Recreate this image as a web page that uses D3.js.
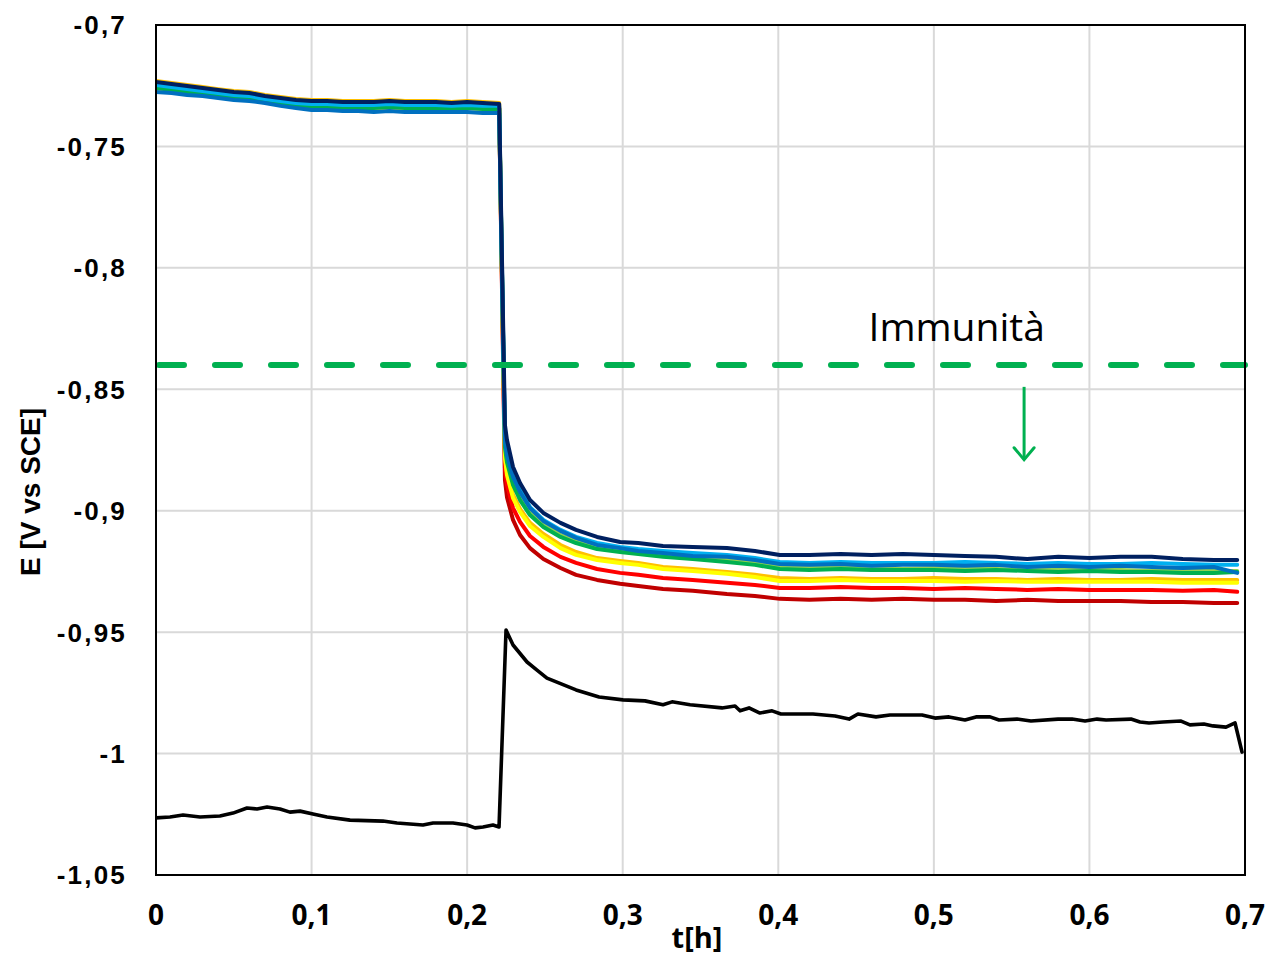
<!DOCTYPE html>
<html><head><meta charset="utf-8">
<script src="https://cdn.jsdelivr.net/npm/d3@7"></script>
<style>body{margin:0;background:#fff;} svg{display:block}</style>
</head><body><svg id="c" width="1271" height="956"></svg>
<script>
// ---------- DATA ----------
const tColored = [0,0.01,0.02,0.03,0.04,0.05,0.06,0.07,0.08,0.09,0.10,0.11,0.12,0.13,0.14,0.15,0.16,0.17,0.18,0.19,0.20,0.21,0.2206,
  0.2243,0.2256,0.2295,0.234,0.2404,0.249,0.26,0.27,0.2835,0.2983,0.31,0.3259,0.345,0.367,0.385,0.401,
  0.42,0.44,0.46,0.48,0.50,0.52,0.54,0.56,0.58,0.60,0.62,0.64,0.66,0.68,0.695];

const eDarkRed = [-0.7251,-0.7259,-0.7268,-0.7280,-0.7284,-0.7296,-0.7296,-0.7309,-0.7317,-0.7325,-0.7329,-0.7333,-0.7333,-0.7338,-0.7338,-0.7333,-0.7338,-0.7333,-0.7338,-0.7342,-0.7338,-0.7342,-0.7342,
  -0.8874,-0.8944,-0.9038,-0.9100,-0.9154,-0.9199,-0.9236,-0.9264,-0.9285,-0.9301,-0.9310,-0.9322,-0.9330,-0.9343,-0.9351,-0.9363,
  -0.9367,-0.9363,-0.9367,-0.9363,-0.9367,-0.9367,-0.9372,-0.9367,-0.9372,-0.9372,-0.9372,-0.9376,-0.9376,-0.9380,-0.9380];
const eRed = [-0.7255,-0.7264,-0.7272,-0.7280,-0.7288,-0.7296,-0.7301,-0.7309,-0.7317,-0.7325,-0.7333,-0.7333,-0.7338,-0.7338,-0.7338,-0.7333,-0.7338,-0.7338,-0.7338,-0.7342,-0.7338,-0.7342,-0.7342,
  -0.8824,-0.8894,-0.8989,-0.9046,-0.9104,-0.9149,-0.9190,-0.9215,-0.9240,-0.9256,-0.9264,-0.9277,-0.9285,-0.9297,-0.9306,-0.9318,
  -0.9318,-0.9314,-0.9318,-0.9318,-0.9322,-0.9318,-0.9322,-0.9326,-0.9322,-0.9326,-0.9326,-0.9326,-0.9330,-0.9326,-0.9334];
const eOrange = [-0.7231,-0.7239,-0.7247,-0.7255,-0.7264,-0.7272,-0.7276,-0.7288,-0.7296,-0.7305,-0.7309,-0.7309,-0.7313,-0.7313,-0.7313,-0.7309,-0.7313,-0.7313,-0.7313,-0.7317,-0.7313,-0.7317,-0.7321,
  -0.8771,-0.8841,-0.8935,-0.8993,-0.9050,-0.9096,-0.9141,-0.9170,-0.9195,-0.9207,-0.9215,-0.9232,-0.9240,-0.9252,-0.9264,-0.9277,
  -0.9281,-0.9277,-0.9281,-0.9281,-0.9277,-0.9281,-0.9281,-0.9285,-0.9281,-0.9285,-0.9285,-0.9281,-0.9285,-0.9285,-0.9285];
const eYellow = [-0.7264,-0.7268,-0.7276,-0.7288,-0.7292,-0.7301,-0.7309,-0.7313,-0.7325,-0.7329,-0.7338,-0.7342,-0.7342,-0.7346,-0.7342,-0.7342,-0.7342,-0.7346,-0.7342,-0.7346,-0.7342,-0.7346,-0.7346,
  -0.8783,-0.8853,-0.8948,-0.9005,-0.9063,-0.9108,-0.9154,-0.9182,-0.9203,-0.9215,-0.9223,-0.9240,-0.9248,-0.9260,-0.9273,-0.9289,
  -0.9289,-0.9285,-0.9289,-0.9289,-0.9289,-0.9293,-0.9289,-0.9293,-0.9293,-0.9293,-0.9293,-0.9293,-0.9297,-0.9297,-0.9297];
const eYellowGreen = [-0.7255,-0.7264,-0.7272,-0.7280,-0.7288,-0.7296,-0.7301,-0.7309,-0.7317,-0.7325,-0.7333,-0.7333,-0.7338,-0.7338,-0.7338,-0.7333,-0.7338,-0.7338,-0.7338,-0.7342,-0.7338,-0.7342,-0.7342,
  -0.8730,-0.8791,-0.8882,-0.8944,-0.9005,-0.9055,-0.9100,-0.9125,-0.9149,-0.9162,-0.9170,-0.9182,-0.9190,-0.9203,-0.9215,-0.9232,
  -0.9236,-0.9236,-0.9236,-0.9240,-0.9236,-0.9240,-0.9240,-0.9244,-0.9244,-0.9244,-0.9244,-0.9248,-0.9248,-0.9248,-0.9248];
const eGreen = [-0.7259,-0.7268,-0.7276,-0.7284,-0.7292,-0.7301,-0.7305,-0.7313,-0.7321,-0.7329,-0.7338,-0.7338,-0.7342,-0.7342,-0.7342,-0.7338,-0.7342,-0.7342,-0.7342,-0.7346,-0.7342,-0.7346,-0.7346,
  -0.8738,-0.8800,-0.8894,-0.8956,-0.9018,-0.9067,-0.9108,-0.9133,-0.9158,-0.9170,-0.9178,-0.9190,-0.9199,-0.9211,-0.9223,-0.9240,
  -0.9244,-0.9240,-0.9244,-0.9244,-0.9244,-0.9248,-0.9244,-0.9248,-0.9252,-0.9248,-0.9252,-0.9252,-0.9256,-0.9256,-0.9252];
const eLightBlue = [-0.7247,-0.7255,-0.7264,-0.7272,-0.7280,-0.7288,-0.7292,-0.7305,-0.7313,-0.7321,-0.7325,-0.7325,-0.7329,-0.7329,-0.7329,-0.7325,-0.7329,-0.7329,-0.7329,-0.7333,-0.7329,-0.7333,-0.7333,
  -0.8701,-0.8758,-0.8853,-0.8915,-0.8985,-0.9038,-0.9079,-0.9108,-0.9133,-0.9149,-0.9158,-0.9166,-0.9174,-0.9182,-0.9195,-0.9211,
  -0.9215,-0.9211,-0.9215,-0.9215,-0.9215,-0.9211,-0.9215,-0.9219,-0.9215,-0.9219,-0.9219,-0.9215,-0.9219,-0.9223,-0.9223];
const eBlue = [-0.7276,-0.7280,-0.7288,-0.7292,-0.7301,-0.7309,-0.7313,-0.7321,-0.7333,-0.7342,-0.7350,-0.7350,-0.7354,-0.7354,-0.7358,-0.7354,-0.7358,-0.7358,-0.7358,-0.7358,-0.7358,-0.7362,-0.7362,
  -0.8709,-0.8771,-0.8861,-0.8923,-0.8989,-0.9042,-0.9083,-0.9112,-0.9141,-0.9154,-0.9166,-0.9174,-0.9186,-0.9190,-0.9203,-0.9219,
  -0.9223,-0.9219,-0.9227,-0.9223,-0.9223,-0.9227,-0.9223,-0.9232,-0.9227,-0.9232,-0.9227,-0.9232,-0.9236,-0.9232,-0.9256];
const eNavy = [-0.7235,-0.7243,-0.7251,-0.7259,-0.7268,-0.7276,-0.7280,-0.7292,-0.7301,-0.7309,-0.7313,-0.7313,-0.7317,-0.7317,-0.7317,-0.7313,-0.7317,-0.7317,-0.7317,-0.7321,-0.7317,-0.7321,-0.7325,
  -0.8647,-0.8709,-0.8820,-0.8886,-0.8956,-0.9009,-0.9050,-0.9079,-0.9108,-0.9129,-0.9133,-0.9145,-0.9149,-0.9154,-0.9166,-0.9182,
  -0.9182,-0.9178,-0.9182,-0.9178,-0.9182,-0.9186,-0.9190,-0.9199,-0.9190,-0.9195,-0.9190,-0.9190,-0.9199,-0.9203,-0.9203];

const coloredSeries = [eDarkRed, eRed, eOrange, eYellow, eYellowGreen, eGreen, eLightBlue, eBlue, eNavy];
const coloredColors = ["#c00000","#ff0000","#ffc000","#ffff00","#92d050","#00b050","#00b0f0","#0070c0","#002060"];

const tBlack = [0,0.009,0.0174,0.0283,0.0411,0.0495,0.0585,0.0649,0.0714,0.0797,0.0861,0.0926,0.1009,0.1099,0.1247,0.1459,0.1549,0.1716,0.1781,0.1909,0.1999,0.2051,0.2102,0.2166,0.2205,
  0.2250,0.2295,0.2385,0.2449,0.2513,0.27,0.2848,0.3002,0.3143,0.3259,0.3317,0.3433,0.3638,0.3722,0.3754,0.3812,0.3882,0.3960,0.4017,0.4223,0.4365,0.4455,0.4512,0.4628,0.4718,0.4924,
  0.5007,0.5097,0.5200,0.5271,0.5361,0.5419,0.5534,0.5624,0.5798,0.5888,0.5972,0.6049,0.6107,0.6267,0.6325,0.6383,0.6473,0.6589,0.6646,0.6736,0.6794,0.6878,0.6936,0.6981];
const eBlack = [-1.0265,-1.0261,-1.0253,-1.0261,-1.0257,-1.0245,-1.0224,-1.0228,-1.0220,-1.0228,-1.0241,-1.0237,-1.0249,-1.0261,-1.0274,-1.0278,-1.0286,-1.0294,-1.0286,-1.0286,-1.0294,-1.0306,-1.0302,-1.0294,-1.0302,
  -0.9491,-0.9553,-0.9623,-0.9656,-0.9689,-0.9738,-0.9767,-0.9779,-0.9783,-0.9799,-0.9787,-0.9799,-0.9812,-0.9804,-0.9824,-0.9812,-0.9833,-0.9824,-0.9837,-0.9837,-0.9845,-0.9858,-0.9837,-0.9849,-0.9841,-0.9841,
  -0.9854,-0.9849,-0.9862,-0.9849,-0.9849,-0.9862,-0.9858,-0.9866,-0.9858,-0.9858,-0.9866,-0.9858,-0.9862,-0.9858,-0.9870,-0.9874,-0.9870,-0.9866,-0.9882,-0.9878,-0.9886,-0.9891,-0.9874,-0.9994];

const xTicks = [0,0.1,0.2,0.3,0.4,0.5,0.6,0.7];
const xTickLabels = ["0","0,1","0,2","0,3","0,4","0,5","0,6","0,7"];
const yTicks = [-0.7,-0.75,-0.8,-0.85,-0.9,-0.95,-1,-1.05];
const yTickLabels = ["-0,7","-0,75","-0,8","-0,85","-0,9","-0,95","-1","-1,05"];
const xTitle = "t[h]";
const yTitle = "E [V vs SCE]";
const immunityLevel = -0.84;
const immunityLabel = "Immunità";
const arrowT = 0.558, arrowFrom = -0.849, arrowTo = -0.879;
const labelT = 0.458, labelE = -0.8301;

// ---------- CHART ----------
const svg = d3.select("#c");
const L = 156, R = 1245, T = 25, B = 875;
const x = d3.scaleLinear().domain([0, 0.7]).range([L, R]);
const y = d3.scaleLinear().domain([-1.05, -0.7]).range([B, T]);

svg.append("rect").attr("width",1271).attr("height",956).attr("fill","#fff");

svg.append("defs").append("clipPath").attr("id","clip")
  .append("rect").attr("x",L).attr("y",T).attr("width",R-L).attr("height",B-T);

// grid
const grid = svg.append("g");
grid.selectAll("line.v").data(xTicks).join("line")
  .attr("x1",d=>x(d)).attr("x2",d=>x(d)).attr("y1",T).attr("y2",B)
  .attr("stroke","#d9d9d9").attr("stroke-width",2);
grid.selectAll("line.h").data(yTicks).join("line")
  .attr("x1",L).attr("x2",R).attr("y1",d=>y(d)).attr("y2",d=>y(d))
  .attr("stroke","#d9d9d9").attr("stroke-width",2);

const plot = svg.append("g").attr("clip-path","url(#clip)");
const line = d3.line().x(d=>x(d[0])).y(d=>y(d[1]));

coloredSeries.forEach((s,i)=>{
  plot.append("path").datum(tColored.map((t,j)=>[t,s[j]]))
    .attr("d",line).attr("fill","none").attr("stroke",coloredColors[i])
    .attr("stroke-width",4).attr("stroke-linejoin","round").attr("stroke-linecap","round");
});

plot.append("path").datum(tBlack.map((t,j)=>[t,eBlack[j]]))
  .attr("d",line).attr("fill","none").attr("stroke","#000")
  .attr("stroke-width",3.6).attr("stroke-linejoin","round").attr("stroke-linecap","round");

// immunity dashed line
svg.append("line").attr("x1",x(0)+3).attr("x2",x(0.7)).attr("y1",y(immunityLevel)).attr("y2",y(immunityLevel))
  .attr("stroke","#00b050").attr("stroke-width",6).attr("stroke-dasharray","25 31").attr("stroke-linecap","round");

// arrow
const ax = x(arrowT), ay1 = y(arrowFrom), ay2 = y(arrowTo);
svg.append("path").attr("d",`M${ax},${ay1}L${ax},${ay2}`).attr("stroke","#00b050").attr("stroke-width",3).attr("fill","none");
svg.append("path").attr("d",`M${ax-10},${ay2-12}L${ax},${ay2}L${ax+10},${ay2-12}`).attr("stroke","#00b050").attr("stroke-width",3).attr("fill","none").attr("stroke-linecap","round");

svg.append("text").attr("x",x(labelT)).attr("y",y(labelE)).text(immunityLabel)
  .attr("font-family","'Open Sans', 'Noto Sans', sans-serif").attr("font-size",39).attr("fill","#000");

// frame
svg.append("rect").attr("x",L).attr("y",T).attr("width",R-L).attr("height",B-T)
  .attr("fill","none").attr("stroke","#000").attr("stroke-width",2);

// y tick labels
svg.append("g").selectAll("text").data(yTicks).join("text")
  .attr("x",127).attr("y",d=>y(d)).attr("dy","0.36em").attr("text-anchor","end")
  .attr("font-family","'Liberation Sans', Arial, sans-serif").attr("font-weight","bold").attr("font-size",26)
  .attr("letter-spacing",2.2)
  .text((d,i)=>yTickLabels[i]);

// x tick labels
svg.append("g").selectAll("text").data(xTicks).join("text")
  .attr("x",d=>x(d)).attr("y",925).attr("text-anchor","middle")
  .attr("font-family","'Open Sans', sans-serif").attr("font-weight","bold").attr("font-size",28)
  .text((d,i)=>xTickLabels[i]);

svg.append("text").attr("x",697).attr("y",948).attr("text-anchor","middle")
  .attr("font-family","'Open Sans', sans-serif").attr("font-weight","bold").attr("font-size",29)
  .text(xTitle);

svg.append("text").attr("transform","translate(40,492) rotate(-90)").attr("text-anchor","middle")
  .attr("font-family","'Liberation Sans', Arial, sans-serif").attr("font-weight","bold").attr("font-size",28)
  .text(yTitle);
</script>
</body></html>
